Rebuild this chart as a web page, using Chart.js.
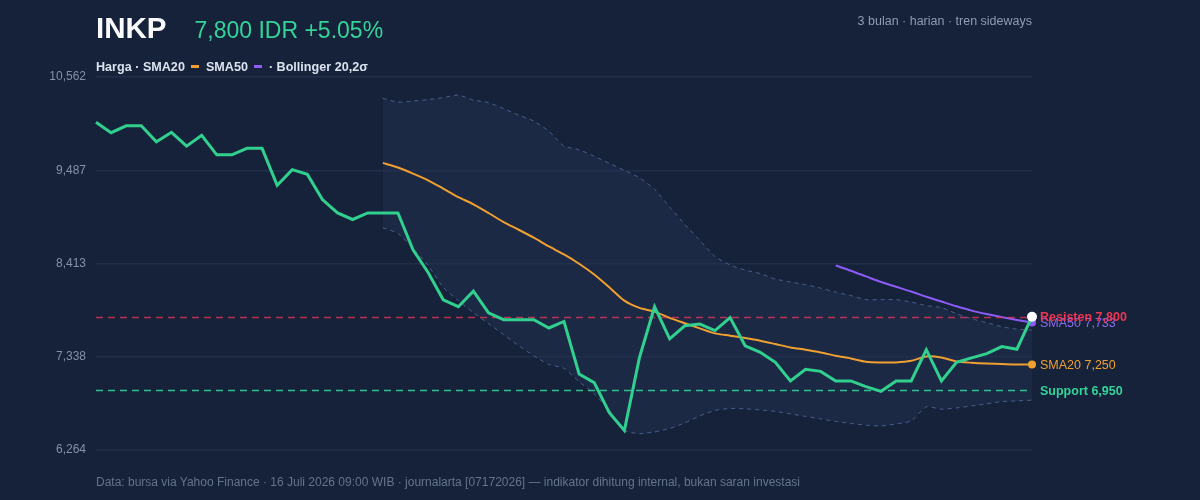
<!DOCTYPE html>
<html lang="id">
<head>
<meta charset="UTF-8">
<title>INKP · harga harian</title>
<script src="https://cdn.jsdelivr.net/npm/chart.js@4"></script>
<style>
:root{
  --bg:#16223a;--green:#34d399;--orange:#f0a030;--violet:#8b5cf6;--rose:#f43f5e;
  font-family:"Liberation Sans",Arial,Helvetica,sans-serif;
}
html,body{margin:0;padding:0;background:var(--bg);width:1200px;height:500px;overflow:hidden}
#wrap{position:absolute;left:0;top:0;width:1200px;height:500px}
.head{position:absolute;left:96px;top:13px;display:flex;align-items:baseline;line-height:1}
.head b{font-size:29.5px;color:#f8fafc;font-weight:700}
.head span{font-size:23px;color:var(--green);margin-left:28px}
.meta{position:absolute;right:168px;top:15px;font-size:12.5px;line-height:1;color:#8e9bb3}
.legend{position:absolute;left:96px;top:61px;font-size:12.6px;line-height:1;font-weight:700;color:#dbe3ee}
.legend i{display:inline-block;width:8px;height:3px;vertical-align:middle;margin:0 3px 2px}
.foot{position:absolute;left:96px;top:476px;font-size:12px;line-height:1;color:#64748b}
</style>
</head>
<body>
<div id="wrap"><canvas id="chart"></canvas></div>
<div class="head"><b>INKP</b><span>7,800 IDR +5.05%</span></div>
<div class="meta">3 bulan · harian · tren sideways</div>
<div class="legend">Harga · SMA20 <i style="background:var(--orange)"></i> SMA50 <i style="background:var(--violet)"></i> · Bollinger 20,2σ</div>
<div class="foot">Data: bursa via Yahoo Finance · 16 Juli 2026 09:00 WIB · journalarta [07172026] — indikator dihitung internal, bukan saran investasi</div>

<script>
// harga penutupan harian (63 hari bursa)
const PRICE = [
  10040, 9920, 10000, 10000, 9815, 9925, 9765, 9890, 9665, 9665,
  9740, 9740, 9315, 9495, 9440, 9150, 8995, 8920, 8995, 8995,
  8995, 8570, 8310, 7995, 7915, 8095, 7845, 7765, 7765, 7765,
  7670, 7745, 7140, 7040, 6695, 6490, 7330, 7915, 7545, 7695,
  7715, 7640, 7790, 7465, 7390, 7275, 7060, 7195, 7170, 7060,
  7060, 6995, 6940, 7060, 7060, 7420, 7060, 7275, 7325, 7375,
  7455, 7425, 7800
];
const SMA20_START = 19;
const SMA20 = [
  9572, 9519, 9449, 9372, 9276, 9179, 9095, 8995, 8890, 8802,
  8710, 8609, 8517, 8410, 8286, 8139, 7985, 7901, 7858, 7786,
  7725, 7665, 7608, 7581, 7554, 7523, 7485, 7446, 7419, 7388,
  7350, 7319, 7281, 7273, 7273, 7292, 7342, 7330, 7284, 7269,
  7260, 7255, 7250, 7250
];
const SMA50_START = 49;
const SMA50 = [8390, 8330, 8265, 8200, 8145, 8090, 8030, 7975, 7920, 7870, 7830, 7795, 7762, 7733];
const BB_UPPER = [
  10316, 10273, 10285, 10302, 10325, 10354, 10296, 10267, 10198, 10123,
  10054, 9938, 9765, 9724, 9649, 9568, 9487, 9401, 9268, 9063,
  8864, 8679, 8494, 8396, 8338, 8297, 8234, 8199, 8170, 8130,
  8084, 8043, 7997, 7997, 7997, 7968, 7928, 7905, 7835, 7777,
  7731, 7685, 7656, 7647
];
const BB_LOWER = [
  8825, 8760, 8586, 8390, 8139, 7985, 7847, 7720, 7593, 7466,
  7350, 7249, 7206, 7050, 6911, 6726, 6489, 6452, 6472, 6512,
  6576, 6657, 6720, 6743, 6738, 6726, 6709, 6680, 6651, 6622,
  6593, 6570, 6550, 6541, 6564, 6599, 6761, 6734, 6749, 6772,
  6795, 6822, 6830, 6838
];
const Y_TICKS = [6264, 7338, 8413, 9487, 10562];
const RESIST = 7800, SUPPORT = 6950;

const LABELS = PRICE.map((_, i) => i + 1);
const pad = (start, vals) => Array(start).fill(null).concat(vals);
const last = PRICE.length - 1;
const fmt = v => v.toLocaleString('en-US');
const FONT = '"Liberation Sans",Arial,sans-serif';

// garis resisten/support, digambar tepat sebelum garis harga
const refLines = {
  id: 'refLines',
  beforeDatasetDraw(chart, args){
    if(args.index !== 0) return;
    const {ctx, chartArea:a, scales:{y}} = chart;
    ctx.save();
    ctx.lineWidth = 1.5;
    ctx.setLineDash([7,5]);
    [[RESIST,'rgba(236,60,92,.72)'],[SUPPORT,'rgba(52,211,153,.9)']].forEach(([v,c])=>{
      const py = Math.round(y.getPixelForValue(v)) + .5;
      ctx.strokeStyle = c;
      ctx.beginPath(); ctx.moveTo(a.left, py); ctx.lineTo(a.right, py); ctx.stroke();
    });
    ctx.restore();
  }
};

// label di kanan area grafik
const sideLabels = {
  id: 'sideLabels',
  afterDatasetsDraw(chart){
    const {ctx, chartArea:a, scales:{y}} = chart;
    const x = a.right + 8;
    const items = [
      [`SMA50 ${fmt(SMA50[SMA50.length-1])}`, SMA50[SMA50.length-1], '#8b6cf0', 400],
      [`SMA20 ${fmt(SMA20[SMA20.length-1])}`, SMA20[SMA20.length-1], '#f0a030', 400],
      [`Resisten ${fmt(RESIST)}`, RESIST, '#ee3553', 700],
      [`Support ${fmt(SUPPORT)}`, SUPPORT, '#34d399', 700]
    ];
    ctx.save();
    ctx.textBaseline = 'middle';
    ctx.textAlign = 'left';
    items.forEach(([t,v,c,w])=>{
      ctx.font = `${w} 12.5px ${FONT}`;
      ctx.fillStyle = c;
      ctx.fillText(t, x, y.getPixelForValue(v) + 1);
    });
    ctx.restore();
  }
};

const lastOnly = r => c => c.dataIndex === last ? r : 0;

new Chart(document.getElementById('chart'), {
  type: 'line',
  data: {
    labels: LABELS,
    datasets: [
      {label:'Harga', data: PRICE, borderColor:'#31d08f', borderWidth:3, tension:0,
       pointRadius: lastOnly(5), pointBackgroundColor:'#ffffff', pointBorderWidth:0, clip:false},
      {label:'SMA20', data: pad(SMA20_START, SMA20), borderColor:'#f0a030', borderWidth:2, tension:.25,
       pointRadius: lastOnly(4), pointBackgroundColor:'#f0a030', pointBorderWidth:0, clip:false},
      {label:'SMA50', data: pad(SMA50_START, SMA50), borderColor:'#8b5cf6', borderWidth:2, tension:.25,
       pointRadius: lastOnly(4), pointBackgroundColor:'#8b5cf6', pointBorderWidth:0, clip:false},
      {label:'BB atas', data: pad(SMA20_START, BB_UPPER), borderColor:'rgba(88,115,168,.75)', borderWidth:1,
       borderDash:[4,4], tension:.2, pointRadius:0, fill:false},
      {label:'BB bawah', data: pad(SMA20_START, BB_LOWER), borderColor:'rgba(88,115,168,.75)', borderWidth:1,
       borderDash:[4,4], tension:.2, pointRadius:0, fill:'-1', backgroundColor:'rgba(36,52,84,.45)'}
    ]
  },
  options: {
    responsive:true, maintainAspectRatio:false, animation:false,
    layout:{padding:{left:0, right:168, top:77, bottom:50}},
    plugins:{legend:{display:false}, tooltip:{enabled:false}},
    scales:{
      x:{display:false, offset:false},
      y:{
        min: Y_TICKS[0], max: Y_TICKS[Y_TICKS.length-1],
        afterBuildTicks: s => { s.ticks = Y_TICKS.map(v => ({value:v})); },
        afterFit: s => { s.width = 96; },
        border:{display:false},
        grid:{color:'#202e4a', lineWidth:1.5, drawTicks:false},
        ticks:{padding:10, color:'#8391a9', font:{family:FONT, size:12}, callback: v => fmt(v)}
      }
    }
  },
  plugins:[refLines, sideLabels]
});
</script>
</body>
</html>
